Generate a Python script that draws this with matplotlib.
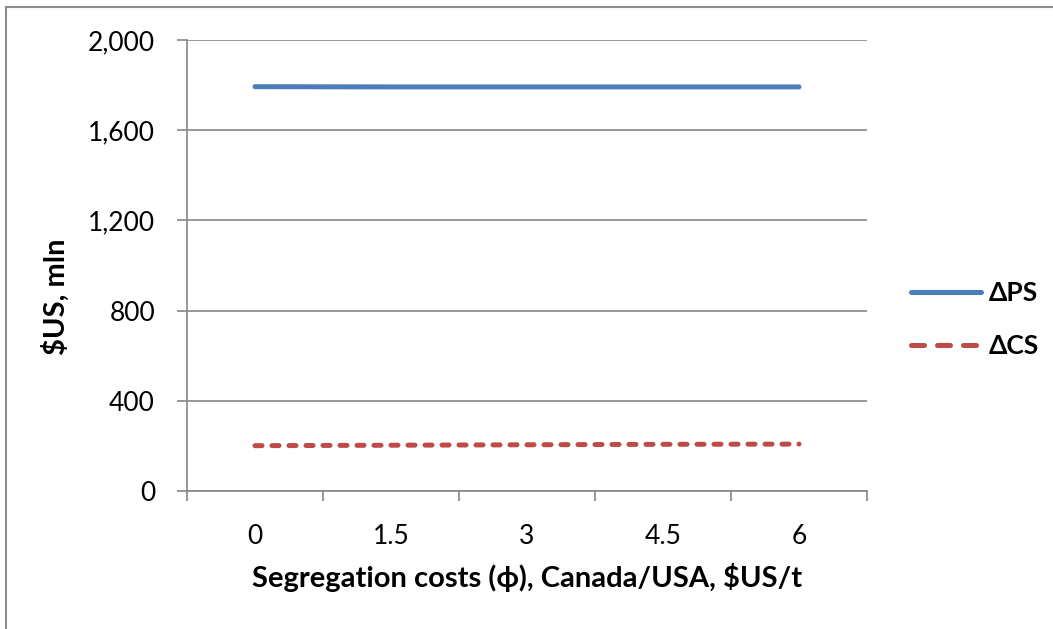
import matplotlib
matplotlib.use("Agg")
import matplotlib.pyplot as plt
from matplotlib.lines import Line2D
from matplotlib.ticker import FuncFormatter, FixedLocator

plt.rcParams['font.family'] = ['Lato', 'DejaVu Sans']

# Segregation cost scenarios and welfare changes
categories = ["0", "1.5", "3", "4.5", "6"]
delta_ps = [1793, 1792, 1792, 1792, 1792]
delta_cs = [201, 203, 205, 207, 208]

y_ticks = [0, 400, 800, 1200, 1600, 2000]

PS_COLOR = "#4A7EBB"
CS_COLOR = "#BE4B48"

W, H = 1053, 629
fig = plt.figure(figsize=(W / 100, H / 100), dpi=100)

# outer chart frame (left and top edges)
fig.add_artist(Line2D([6 / W, 6 / W], [0, 1 - 7 / H], color="#8c8c8c", lw=1.5,
                      transform=fig.transFigure))
fig.add_artist(Line2D([6 / W, 1], [1 - 7 / H, 1 - 7 / H], color="#8c8c8c", lw=1.5,
                      transform=fig.transFigure))

left, right, top, bottom = 187 / W, 867 / W, 1 - 40 / H, 1 - 491 / H
ax = fig.add_axes([left, bottom, right - left, top - bottom])

x = list(range(len(categories)))
ax.plot(x, delta_ps, color=PS_COLOR, lw=3.6, solid_capstyle="round")
ax.plot(x, delta_cs, color=CS_COLOR, lw=3.6, dash_capstyle="round",
        linestyle=(0, (1.4, 2.0)))

ax.set_xlim(-0.5, len(categories) - 0.5)
ax.set_ylim(0, 2000)
ax.set_yticks(y_ticks)
ax.yaxis.set_major_formatter(FuncFormatter(lambda v, p: f"{int(v):,}"))
ax.grid(axis="y", color="#868686", lw=1.2)
ax.set_axisbelow(True)

ax.set_xticks(x)
ax.set_xticklabels(categories)
ax.xaxis.set_minor_locator(FixedLocator([i - 0.5 for i in range(len(categories) + 1)]))
ax.tick_params(axis="x", which="major", length=0, pad=24, labelsize=19)
ax.tick_params(axis="x", which="minor", length=7, width=1.2, color="#868686", direction="out")
ax.tick_params(axis="y", length=7, width=1.2, color="#868686", direction="out",
               pad=16, labelsize=19)

for side in ("top", "right"):
    ax.spines[side].set_visible(False)
for side in ("left", "bottom"):
    ax.spines[side].set_color("#868686")
    ax.spines[side].set_linewidth(1.2)

ax.set_xlabel("Segregation costs (ϕ), Canada/USA, $US/t", fontsize=21,
              fontweight="bold", labelpad=10)
ax.set_ylabel("$US, mln", fontsize=21, fontweight="bold")
ax.yaxis.set_label_coords(-0.172, 0.43)

# legend keys with a longer dash so three dashes fill the key
handles = [
    Line2D([], [], color=PS_COLOR, lw=3.6, solid_capstyle="round"),
    Line2D([], [], color=CS_COLOR, lw=3.6, dash_capstyle="round",
           linestyle=(0, (2.6, 2.6))),
]
ax.legend(handles, ["ΔPS", "ΔCS"], loc="center left", bbox_to_anchor=(1.03, 0.38),
          frameon=False, handlelength=2.65, labelspacing=1.1, handletextpad=0.3,
          prop={"weight": "bold", "size": 19})

fig.savefig("out.png", dpi=100, facecolor="white")
